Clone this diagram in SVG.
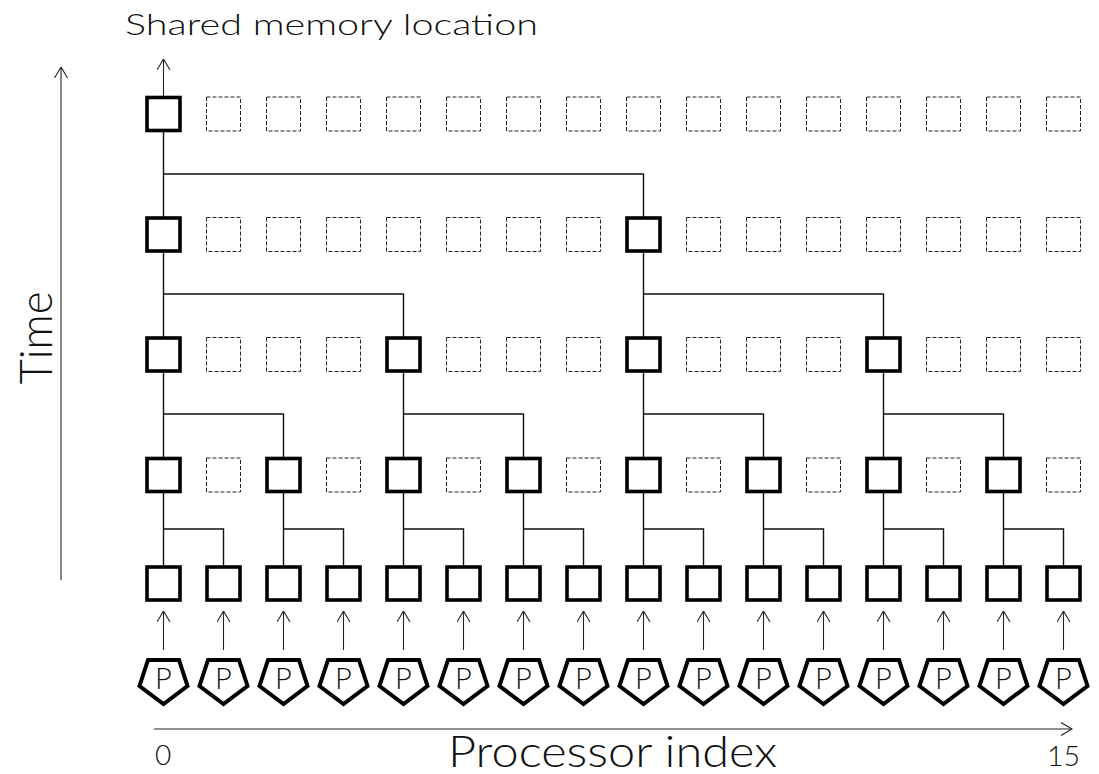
<svg xmlns="http://www.w3.org/2000/svg" xmlns:xlink="http://www.w3.org/1999/xlink" width="1099" height="774" viewBox="0 0 1099 774">
<style>
.sb{fill:#fff;stroke:#000;stroke-width:3.6}
.db{fill:#fff;stroke:#222;stroke-width:1;stroke-dasharray:4 2}
.pe{fill:#fff;stroke:#000;stroke-width:4;stroke-linejoin:miter}
.ln{fill:none;stroke:#111;stroke-width:1.4}
.ar{fill:none;stroke:#222;stroke-width:1.1}
text{font-family:Lato,"Liberation Sans","DejaVu Sans",sans-serif;font-weight:300;fill:#111}
.pt{font-size:29px;text-anchor:middle}
</style>
<defs>
<rect id="sb" class="sb" x="-16.5" y="-16.5" width="33" height="33"/>
<rect id="db" class="db" x="-17" y="-17" width="34" height="34"/>
<polygon id="pent" class="pe" points="-15.5,0 15.5,0 24,26 0,44 -24,26"/>
<marker id="ah" viewBox="0 0 12 14" refX="11.5" refY="7" markerWidth="12" markerHeight="14" markerUnits="userSpaceOnUse" orient="auto">
<path d="M0.5,0.5 L11.5,7 L0.5,13.5" fill="none" stroke="#222" stroke-width="1.1"/>
</marker>
</defs>

<g id="labels">
<text x="125" y="34.5" font-size="30" textLength="413" lengthAdjust="spacingAndGlyphs">Shared memory location</text>
<text x="448" y="767" font-size="43" textLength="329" lengthAdjust="spacingAndGlyphs">Processor index</text>
<text x="155" y="765" font-size="28">0</text>
<text x="1047" y="766" font-size="28" textLength="33" lengthAdjust="spacingAndGlyphs">15</text>
<text transform="translate(52,338) rotate(-90)" font-size="45" text-anchor="middle" textLength="93" lengthAdjust="spacingAndGlyphs">Time</text>
</g>

<g id="axes">
<line class="ar" x1="61" y1="580" x2="61" y2="67" marker-end="url(#ah)"/>
<line class="ar" x1="154" y1="729" x2="1072" y2="729" marker-end="url(#ah)"/>
</g>

<g id="connectors">
<line class="ar" x1="163.5" y1="97.5" x2="163.5" y2="59" marker-end="url(#ah)"/>
<path class="ln" d="M163.5,218V130.5 M163.5,174H643.5V218"/>
<path class="ln" d="M163.5,338V251 M163.5,294H403.5V338 M643.5,338V251 M643.5,294H883.5V338"/>
<path class="ln" d="M163.5,458.5V371 M163.5,414H283.5V458.5 M403.5,458.5V371 M403.5,414H523.5V458.5 M643.5,458.5V371 M643.5,414H763.5V458.5 M883.5,458.5V371 M883.5,414H1003.5V458.5"/>
<path class="ln" d="M163.5,567V491.5 M163.5,529H223.5V567 M283.5,567V491.5 M283.5,529H343.5V567 M403.5,567V491.5 M403.5,529H463.5V567 M523.5,567V491.5 M523.5,529H583.5V567 M643.5,567V491.5 M643.5,529H703.5V567 M763.5,567V491.5 M763.5,529H823.5V567 M883.5,567V491.5 M883.5,529H943.5V567 M1003.5,567V491.5 M1003.5,529H1063.5V567"/>
<line class="ar" x1="163.5" y1="650" x2="163.5" y2="611" marker-end="url(#ah)"/>
<line class="ar" x1="223.5" y1="650" x2="223.5" y2="611" marker-end="url(#ah)"/>
<line class="ar" x1="283.5" y1="650" x2="283.5" y2="611" marker-end="url(#ah)"/>
<line class="ar" x1="343.5" y1="650" x2="343.5" y2="611" marker-end="url(#ah)"/>
<line class="ar" x1="403.5" y1="650" x2="403.5" y2="611" marker-end="url(#ah)"/>
<line class="ar" x1="463.5" y1="650" x2="463.5" y2="611" marker-end="url(#ah)"/>
<line class="ar" x1="523.5" y1="650" x2="523.5" y2="611" marker-end="url(#ah)"/>
<line class="ar" x1="583.5" y1="650" x2="583.5" y2="611" marker-end="url(#ah)"/>
<line class="ar" x1="643.5" y1="650" x2="643.5" y2="611" marker-end="url(#ah)"/>
<line class="ar" x1="703.5" y1="650" x2="703.5" y2="611" marker-end="url(#ah)"/>
<line class="ar" x1="763.5" y1="650" x2="763.5" y2="611" marker-end="url(#ah)"/>
<line class="ar" x1="823.5" y1="650" x2="823.5" y2="611" marker-end="url(#ah)"/>
<line class="ar" x1="883.5" y1="650" x2="883.5" y2="611" marker-end="url(#ah)"/>
<line class="ar" x1="943.5" y1="650" x2="943.5" y2="611" marker-end="url(#ah)"/>
<line class="ar" x1="1003.5" y1="650" x2="1003.5" y2="611" marker-end="url(#ah)"/>
<line class="ar" x1="1063.5" y1="650" x2="1063.5" y2="611" marker-end="url(#ah)"/>
</g>

<!-- row 1 (top) -->
<g id="m1-0"><use href="#sb" x="163.5" y="114"/></g>
<g id="m1-1"><use href="#db" x="223.5" y="114"/></g>
<g id="m1-2"><use href="#db" x="283.5" y="114"/></g>
<g id="m1-3"><use href="#db" x="343.5" y="114"/></g>
<g id="m1-4"><use href="#db" x="403.5" y="114"/></g>
<g id="m1-5"><use href="#db" x="463.5" y="114"/></g>
<g id="m1-6"><use href="#db" x="523.5" y="114"/></g>
<g id="m1-7"><use href="#db" x="583.5" y="114"/></g>
<g id="m1-8"><use href="#db" x="643.5" y="114"/></g>
<g id="m1-9"><use href="#db" x="703.5" y="114"/></g>
<g id="m1-10"><use href="#db" x="763.5" y="114"/></g>
<g id="m1-11"><use href="#db" x="823.5" y="114"/></g>
<g id="m1-12"><use href="#db" x="883.5" y="114"/></g>
<g id="m1-13"><use href="#db" x="943.5" y="114"/></g>
<g id="m1-14"><use href="#db" x="1003.5" y="114"/></g>
<g id="m1-15"><use href="#db" x="1063.5" y="114"/></g>

<!-- row 2 -->
<g id="m2-0"><use href="#sb" x="163.5" y="234.5"/></g>
<g id="m2-1"><use href="#db" x="223.5" y="234.5"/></g>
<g id="m2-2"><use href="#db" x="283.5" y="234.5"/></g>
<g id="m2-3"><use href="#db" x="343.5" y="234.5"/></g>
<g id="m2-4"><use href="#db" x="403.5" y="234.5"/></g>
<g id="m2-5"><use href="#db" x="463.5" y="234.5"/></g>
<g id="m2-6"><use href="#db" x="523.5" y="234.5"/></g>
<g id="m2-7"><use href="#db" x="583.5" y="234.5"/></g>
<g id="m2-8"><use href="#sb" x="643.5" y="234.5"/></g>
<g id="m2-9"><use href="#db" x="703.5" y="234.5"/></g>
<g id="m2-10"><use href="#db" x="763.5" y="234.5"/></g>
<g id="m2-11"><use href="#db" x="823.5" y="234.5"/></g>
<g id="m2-12"><use href="#db" x="883.5" y="234.5"/></g>
<g id="m2-13"><use href="#db" x="943.5" y="234.5"/></g>
<g id="m2-14"><use href="#db" x="1003.5" y="234.5"/></g>
<g id="m2-15"><use href="#db" x="1063.5" y="234.5"/></g>

<!-- row 3 -->
<g id="m3-0"><use href="#sb" x="163.5" y="354.5"/></g>
<g id="m3-1"><use href="#db" x="223.5" y="354.5"/></g>
<g id="m3-2"><use href="#db" x="283.5" y="354.5"/></g>
<g id="m3-3"><use href="#db" x="343.5" y="354.5"/></g>
<g id="m3-4"><use href="#sb" x="403.5" y="354.5"/></g>
<g id="m3-5"><use href="#db" x="463.5" y="354.5"/></g>
<g id="m3-6"><use href="#db" x="523.5" y="354.5"/></g>
<g id="m3-7"><use href="#db" x="583.5" y="354.5"/></g>
<g id="m3-8"><use href="#sb" x="643.5" y="354.5"/></g>
<g id="m3-9"><use href="#db" x="703.5" y="354.5"/></g>
<g id="m3-10"><use href="#db" x="763.5" y="354.5"/></g>
<g id="m3-11"><use href="#db" x="823.5" y="354.5"/></g>
<g id="m3-12"><use href="#sb" x="883.5" y="354.5"/></g>
<g id="m3-13"><use href="#db" x="943.5" y="354.5"/></g>
<g id="m3-14"><use href="#db" x="1003.5" y="354.5"/></g>
<g id="m3-15"><use href="#db" x="1063.5" y="354.5"/></g>

<!-- row 4 -->
<g id="m4-0"><use href="#sb" x="163.5" y="475"/></g>
<g id="m4-1"><use href="#db" x="223.5" y="475"/></g>
<g id="m4-2"><use href="#sb" x="283.5" y="475"/></g>
<g id="m4-3"><use href="#db" x="343.5" y="475"/></g>
<g id="m4-4"><use href="#sb" x="403.5" y="475"/></g>
<g id="m4-5"><use href="#db" x="463.5" y="475"/></g>
<g id="m4-6"><use href="#sb" x="523.5" y="475"/></g>
<g id="m4-7"><use href="#db" x="583.5" y="475"/></g>
<g id="m4-8"><use href="#sb" x="643.5" y="475"/></g>
<g id="m4-9"><use href="#db" x="703.5" y="475"/></g>
<g id="m4-10"><use href="#sb" x="763.5" y="475"/></g>
<g id="m4-11"><use href="#db" x="823.5" y="475"/></g>
<g id="m4-12"><use href="#sb" x="883.5" y="475"/></g>
<g id="m4-13"><use href="#db" x="943.5" y="475"/></g>
<g id="m4-14"><use href="#sb" x="1003.5" y="475"/></g>
<g id="m4-15"><use href="#db" x="1063.5" y="475"/></g>

<!-- row 5 -->
<g id="m5-0"><use href="#sb" x="163.5" y="583.5"/></g>
<g id="m5-1"><use href="#sb" x="223.5" y="583.5"/></g>
<g id="m5-2"><use href="#sb" x="283.5" y="583.5"/></g>
<g id="m5-3"><use href="#sb" x="343.5" y="583.5"/></g>
<g id="m5-4"><use href="#sb" x="403.5" y="583.5"/></g>
<g id="m5-5"><use href="#sb" x="463.5" y="583.5"/></g>
<g id="m5-6"><use href="#sb" x="523.5" y="583.5"/></g>
<g id="m5-7"><use href="#sb" x="583.5" y="583.5"/></g>
<g id="m5-8"><use href="#sb" x="643.5" y="583.5"/></g>
<g id="m5-9"><use href="#sb" x="703.5" y="583.5"/></g>
<g id="m5-10"><use href="#sb" x="763.5" y="583.5"/></g>
<g id="m5-11"><use href="#sb" x="823.5" y="583.5"/></g>
<g id="m5-12"><use href="#sb" x="883.5" y="583.5"/></g>
<g id="m5-13"><use href="#sb" x="943.5" y="583.5"/></g>
<g id="m5-14"><use href="#sb" x="1003.5" y="583.5"/></g>
<g id="m5-15"><use href="#sb" x="1063.5" y="583.5"/></g>

<!-- processors -->
<g id="p0"><use href="#pent" x="163.5" y="660"/><text class="pt" x="163.5" y="689">P</text></g>
<g id="p1"><use href="#pent" x="223.5" y="660"/><text class="pt" x="223.5" y="689">P</text></g>
<g id="p2"><use href="#pent" x="283.5" y="660"/><text class="pt" x="283.5" y="689">P</text></g>
<g id="p3"><use href="#pent" x="343.5" y="660"/><text class="pt" x="343.5" y="689">P</text></g>
<g id="p4"><use href="#pent" x="403.5" y="660"/><text class="pt" x="403.5" y="689">P</text></g>
<g id="p5"><use href="#pent" x="463.5" y="660"/><text class="pt" x="463.5" y="689">P</text></g>
<g id="p6"><use href="#pent" x="523.5" y="660"/><text class="pt" x="523.5" y="689">P</text></g>
<g id="p7"><use href="#pent" x="583.5" y="660"/><text class="pt" x="583.5" y="689">P</text></g>
<g id="p8"><use href="#pent" x="643.5" y="660"/><text class="pt" x="643.5" y="689">P</text></g>
<g id="p9"><use href="#pent" x="703.5" y="660"/><text class="pt" x="703.5" y="689">P</text></g>
<g id="p10"><use href="#pent" x="763.5" y="660"/><text class="pt" x="763.5" y="689">P</text></g>
<g id="p11"><use href="#pent" x="823.5" y="660"/><text class="pt" x="823.5" y="689">P</text></g>
<g id="p12"><use href="#pent" x="883.5" y="660"/><text class="pt" x="883.5" y="689">P</text></g>
<g id="p13"><use href="#pent" x="943.5" y="660"/><text class="pt" x="943.5" y="689">P</text></g>
<g id="p14"><use href="#pent" x="1003.5" y="660"/><text class="pt" x="1003.5" y="689">P</text></g>
<g id="p15"><use href="#pent" x="1063.5" y="660"/><text class="pt" x="1063.5" y="689">P</text></g>
</svg>
